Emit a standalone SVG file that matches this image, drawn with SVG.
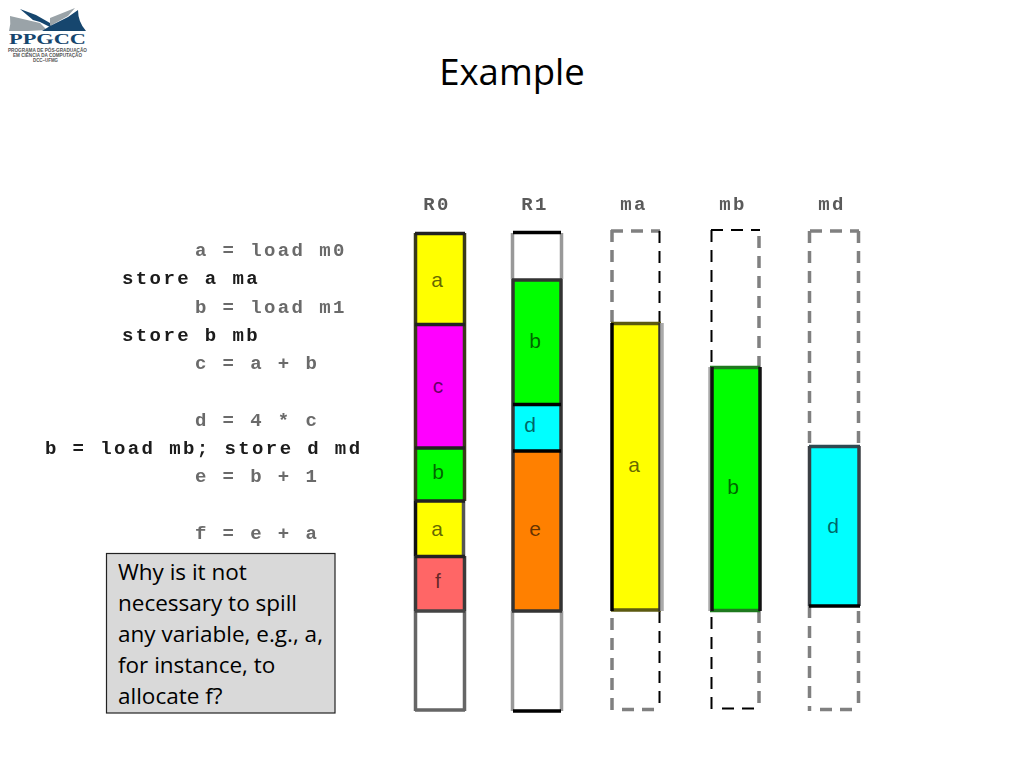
<svg xmlns="http://www.w3.org/2000/svg" width="1024" height="768" viewBox="0 0 1024 768">
<style>
.code{font-family:"Liberation Mono",monospace;font-size:19px;letter-spacing:2.4px;font-weight:bold;fill:#6a6a6a;}
.bold{fill:#1a1a1a;}
.head{font-family:"Liberation Mono",monospace;font-size:19px;letter-spacing:2.3px;font-weight:bold;fill:#5a5a5a;text-anchor:middle;}
.lbl{font-family:"Liberation Sans",sans-serif;font-size:21px;fill:#000;fill-opacity:.62;text-anchor:middle;}
.edge{fill:none;stroke-width:3.500;}
.thin{fill:none;stroke:#000;stroke-width:2;stroke-dasharray:12 8;}
.thick{fill:none;stroke:#808080;stroke-width:3.500;stroke-dasharray:12 8;}
.note{font-family:"Open Sans",sans-serif;font-size:22.500px;fill:#000;}
</style>
<defs><filter id="soft" x="-5%" y="-20%" width="110%" height="140%"><feGaussianBlur stdDeviation="0.5"/></filter></defs>
<rect width="1024" height="768" fill="#fff"/>
<g id="logo">
<path d="M10 16 L40 23 L47 30 L28 31 L9 31 Q11 24 10 16 Z" fill="#9aa3a8"/>
<path d="M20 9 L36 15 L50 23 L52 28 L40 22 L33 20 Z" fill="#16466e"/>
<path d="M50 18 L75 8 L68 16 L50 26 Z" fill="#9aa3a8"/>
<path d="M42 31 L50 26 L68 17 L78 10 Q78 22 86 31 Z" fill="#16466e"/>
<text x="47.500" y="44" text-anchor="middle" font-family="Liberation Serif,serif" font-weight="bold" font-size="15" fill="#16466e" textLength="77" lengthAdjust="spacingAndGlyphs">PPGCC</text>
<g font-family="Liberation Sans,sans-serif" font-weight="bold" font-size="5" fill="#555" text-anchor="middle">
<text x="47.500" y="52" textLength="79" lengthAdjust="spacingAndGlyphs">PROGRAMA DE PÓS-GRADUAÇÃO</text>
<text x="47.500" y="57" textLength="69" lengthAdjust="spacingAndGlyphs">EM CIÊNCIA DA COMPUTAÇÃO</text>
<text x="45.500" y="62" textLength="25" lengthAdjust="spacingAndGlyphs">DCC−UFMG</text>
</g>
</g>
<text id="title" x="512" y="85" text-anchor="middle" font-family="Open Sans,sans-serif" font-size="36.500" fill="#000">Example</text>
<g id="code" filter="url(#soft)">
<text class="code" x="195" y="256">a = load m0</text>
<text class="code bold" x="122" y="284">store a ma</text>
<text class="code" x="195" y="313">b = load m1</text>
<text class="code bold" x="122" y="341">store b mb</text>
<text class="code" x="195" y="369">c = a + b</text>
<text class="code" x="195" y="426">d = 4 * c</text>
<text class="code bold" x="45" y="454">b = load mb; store d md</text>
<text class="code" x="195" y="482">e = b + 1</text>
<text class="code" x="195" y="539">f = e + a</text>
</g>
<g id="headers" filter="url(#soft)">
<text class="head" x="437" y="210">R0</text>
<text class="head" x="535" y="210">R1</text>
<text class="head" x="634" y="210">ma</text>
<text class="head" x="733" y="210">mb</text>
<text class="head" x="832" y="210">md</text>
</g>
<g id="R0">
<rect x="415" y="233" width="50" height="478" fill="#fff"/>
<rect x="415" y="233" width="50" height="91" fill="#ff0"/>
<rect x="415" y="324" width="50" height="124" fill="#f0f"/>
<rect x="415" y="448" width="50" height="53" fill="#0f0"/>
<rect x="415" y="501" width="49" height="55" fill="#ff0"/>
<rect x="415" y="556" width="50" height="55" fill="#f66"/>
<path class="edge" stroke="#666" d="M415.500 611V711M464.500 611V711M415 710H465"/>
<path class="edge" stroke="#3a3a1a" d="M415.500 233V501M464.500 233V501"/>
<path class="edge" stroke="#111" d="M415.500 501V556"/>
<path class="edge" stroke="#555" d="M463.500 501V556"/>
<path class="edge" stroke="#3a3a3a" d="M415.500 556V611M464.500 556V611"/>
<path class="edge" stroke="#222" d="M415 233.500H465M415 324.500H465M415 448H465M415 501H465M415 556.500H465"/>
<path class="edge" stroke="#444" d="M415 611H465"/>
<text class="lbl" x="437" y="287">a</text>
<text class="lbl" x="438" y="393">c</text>
<text class="lbl" x="438" y="479">b</text>
<text class="lbl" x="437" y="536">a</text>
<text class="lbl" x="438" y="588">f</text>
</g>
<g id="R1">
<rect x="513" y="233" width="48" height="478" fill="#fff"/>
<rect x="513" y="279" width="48" height="125" fill="#0f0"/>
<rect x="513" y="404" width="48" height="47" fill="#0ff"/>
<rect x="513" y="451" width="48" height="160" fill="#ff8000"/>
<path class="edge" stroke="#999" d="M512.500 233V279M561.500 233V279M512.500 611V711M561.500 611V711"/>
<path class="edge" stroke="#333" d="M513 279V611M561 279V611"/>
<path class="edge" stroke="#000" d="M513 232.500H561M513 711H561M513 404.500H561M513 451H561"/>
<path class="edge" stroke="#333" d="M512 280H562M512 611H562"/>
<text class="lbl" x="535" y="348">b</text>
<text class="lbl" x="530" y="432">d</text>
<text class="lbl" x="535" y="536">e</text>
</g>
<g id="ma">
<path class="thick" d="M612 230V323M612 618V711M611 231H660M622 709.500H660"/>
<path class="thin" d="M659.500 231V323M659.500 611V710"/>
<rect x="611" y="323" width="50" height="288" fill="#ff0"/>
<path class="edge" stroke="#5c5a10" d="M611 323.500H661M611 610H661"/>
<path class="edge" stroke="#000" stroke-width="2" d="M612 323V611"/>
<path class="edge" stroke="#333" stroke-width="2" d="M660 323V611"/>
<path class="edge" stroke="#aaa" stroke-width="2" d="M662 323V611"/>
<text class="lbl" x="634" y="472">a</text>
</g>
<g id="mb">
<path class="thin" d="M711.500 230V367M711.500 617V709M711 230H760M722 708.500H760"/>
<path class="thick" d="M759 236V367M759 611V710"/>
<rect x="711" y="367" width="49" height="244" fill="#0f0"/>
<path class="edge" stroke="#1e7a1e" d="M710 367.500H760M710 610.500H760"/>
<path class="edge" stroke="#aaa" stroke-width="3" d="M710 367V611"/>
<path class="edge" stroke="#111" stroke-width="2" d="M712 367V611M760 367V611"/>
<text class="lbl" x="733" y="494">b</text>
</g>
<g id="md">
<path class="thick" d="M809.500 231V446M809.500 606V711M858.500 231V446M858.500 611V708M810 231H859M820 709.500H859"/>
<rect x="810" y="446" width="49" height="160" fill="#0ff"/>
<path class="edge" stroke="#2d4a52" d="M809 446.500H860"/>
<path class="edge" stroke="#3a3f44" d="M809.500 446V606M859 446V606"/>
<path class="edge" stroke="#000" d="M809 606H860"/>
<text class="lbl" x="833" y="533">d</text>
</g>
<g id="note">
<rect x="106.500" y="553.500" width="228.500" height="159.500" fill="#d9d9d9" stroke="#222" stroke-width="1.200"/>
<text class="note" x="118" y="580">Why is it not</text>
<text class="note" x="118" y="611">necessary to spill</text>
<text class="note" x="118" y="642">any variable, e.g., a,</text>
<text class="note" x="118" y="673">for instance, to</text>
<text class="note" x="118" y="704">allocate f?</text>
</g>
</svg>
